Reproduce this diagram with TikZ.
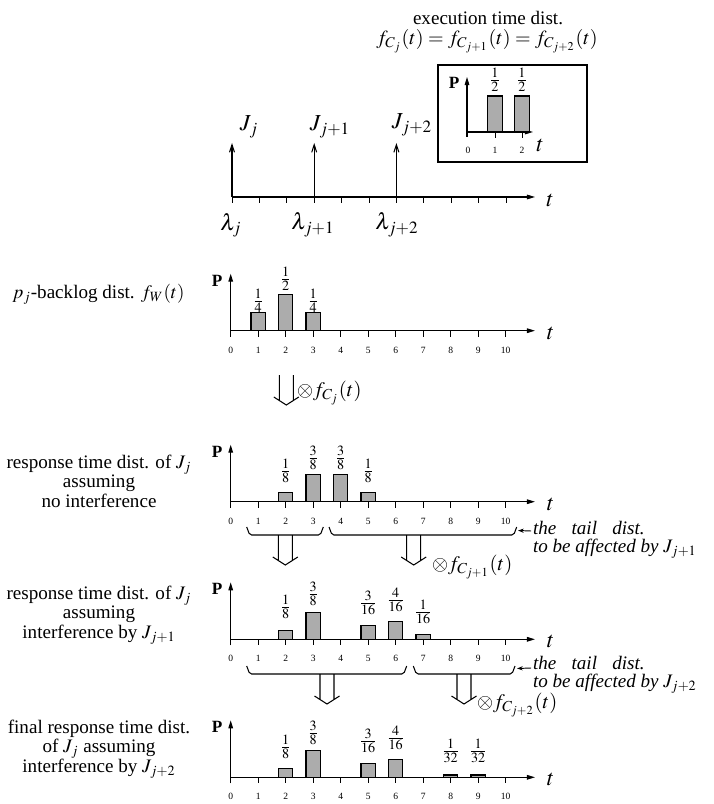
\documentclass[tikz,border=0pt]{standalone}
\usepackage{mathptmx}
\usepackage[no-math]{fontspec}
\setmainfont{Liberation Serif}
\usetikzlibrary{arrows.meta,calc}

\begin{document}
\begin{tikzpicture}[x=0.524pt,y=-0.524pt,
  every node/.style={inner sep=0pt, outer sep=0pt},
  lbl/.style={font=\fontsize{10}{10.2}\selectfont, align=center},
  mathlbl/.style={font=\fontsize{12}{14}\selectfont},
  convlbl/.style={font=\fontsize{10.8}{13}\selectfont, anchor=west},
  tail/.style={font=\fontsize{10}{9.6}\selectfont\itshape, align=left},
  axisline/.style={line width=0.55pt, -{Triangle[length=4.2pt,width=2.4pt]}},
  tickmark/.style={line width=0.5pt},
  ticknum/.style={font=\tiny},
  frac/.style={font=\normalsize},
  pbar/.style={draw, line width=0.6pt, fill=gray!65},
  release/.style={line width=0.55pt, -{Straight Barb[length=4pt,width=2.6pt]}},
  tailarrow/.style={line width=0.5pt, -{Stealth[length=3pt,width=2.2pt]}},
  hookbrace/.style={line width=0.55pt, rounded corners=1pt,
    to path={(\tikztostart) -- ++(3,8) -- ($(\tikztotarget)+(-3,8)$) -- (\tikztotarget)}},
  fatarrow/.pic={\draw[line width=0.55pt] (-7,0) -- (-7,25.5) (7,0) -- (7,25.5)
                 (-12.5,22) -- (0,30) -- (12.5,22);},
  probaxes/.pic={
    \draw[axisline] (0,6) -- (0,-57);
    \draw[axisline] (0,0) -- (304.3,0);
    \foreach \k in {1,...,10} \draw[tickmark] (\k*27.5,0) -- (\k*27.5,6);
    \foreach \k in {0,...,10} \node[ticknum] (-n\k) at (\k*27.5,19.5) {\k};
    \node[mathlbl] (-t) at (320,2.5) {$t$};
    \node[font=\small\bfseries] (-P) at (-13.7,-50) {P};
  }
]
\useasboundingbox (0,0) rectangle (713,804);

% ---------- execution time distribution ----------
\node[lbl] (head) at (488,18) {execution time dist.};
\node[font=\fontsize{10.5}{12}\selectfont] (headf) at (487,41) {$f_{C_j}(t)=f_{C_{j+1}}(t)=f_{C_{j+2}}(t)$};
\node[draw, line width=0.6pt, minimum width=78.1pt, minimum height=50.8pt] (inset) at (512.5,113.5) {};
\begin{scope}[shift={(467,132)}]
  \draw[axisline] (0,5) -- (0,-55);
  \draw[axisline] (0,0) -- (66,0);
  \foreach \k in {28,55} \draw[tickmark] (\k,0) -- (\k,6);
  \foreach \k in {28,55} \draw[pbar] (\k-7.15,0) rectangle ++(14.3,-36);
  \node[ticknum] (in0) at (1,18) {0};
  \node[ticknum] (in1) at (28,18) {1};
  \node[ticknum] (in2) at (55,18) {2};
  \node[mathlbl] (int) at (73,13) {$t$};
  \node[font=\small\bfseries] (inP) at (-13,-49) {P};
  \node[frac] (inf1) at (28,-52) {$\frac{1}{2}$};
  \node[frac] (inf2) at (55,-52) {$\frac{1}{2}$};
\end{scope}

% ---------- release time line ----------
\draw[axisline] (232,197) -- (535,197);
\foreach \k in {0,...,10} \draw[tickmark] (232+\k*27.4,197) -- ++(0,6);
\coordinate (r0) at (232,197);
\coordinate (r1) at (314.2,197);
\coordinate (r2) at (396.4,197);
\draw[release] (r0) -- ++(0,-54);
\draw[release] (r1) -- ++(0,-54);
\draw[release] (r2) -- ++(0,-54);
\node[mathlbl] (J0) at (249,127) {$J_j$};
\node[mathlbl] (J1) at (330,127) {$J_{j+1}$};
\node[mathlbl] (J2) at (412,125) {$J_{j+2}$};
\node[mathlbl] (L0) at (231,225) {$\lambda_j$};
\node[mathlbl] (L1) at (313,225) {$\lambda_{j+1}$};
\node[mathlbl] (L2) at (397,225) {$\lambda_{j+2}$};
\node[mathlbl] (tl) at (550,200) {$t$};

% ---------- backlog distribution ----------
\node[lbl] (lab1) at (98.5,294) {$p_j$-backlog dist. $f_W(t)$};
\pic (c1) at (230.7,330.7) {probaxes};
\begin{scope}[shift={(230.7,330.7)}]
  \foreach \k/\p in {1/0.25,2/0.5,3/0.25}
    \draw[pbar] (\k*27.5-7.15,0) rectangle ++(14.3,-\p*72);
  \node[frac] (c1f1) at (27.5,-30) {$\frac{1}{4}$};
  \node[frac] (c1f2) at (55,-51.7) {$\frac{1}{2}$};
  \node[frac] (c1f3) at (82.5,-30) {$\frac{1}{4}$};
\end{scope}
\pic at (286.3,375) {fatarrow};
\node[convlbl] (conv1) at (297,393) {$\otimes f_{C_j}(t)$};

% ---------- response time, no interference ----------
\node[lbl] (lab2) at (99,481) {response time dist. of $J_j$\\assuming\\no interference};
\pic (c2) at (230.7,501.7) {probaxes};
\begin{scope}[shift={(230.7,501.7)}]
  \foreach \k/\p in {2/0.125,3/0.375,4/0.375,5/0.125}
    \draw[pbar] (\k*27.5-7.15,0) rectangle ++(14.3,-\p*72);
  \node[frac] (c2f1) at (55,-31) {$\frac{1}{8}$};
  \node[frac] (c2f2) at (82.5,-44) {$\frac{3}{8}$};
  \node[frac] (c2f3) at (110,-44) {$\frac{3}{8}$};
  \node[frac] (c2f4) at (137.5,-31) {$\frac{1}{8}$};
\end{scope}
\draw[hookbrace] (246.7,527) to (323.3,527);
\draw[hookbrace] (329,527) to (516.7,527);
\pic at (285.3,535) {fatarrow};
\pic at (413.7,535) {fatarrow};
\node[tail, anchor=west] (tail1) at (533,540) {the\hspace{0.8em}tail\hspace{0.8em}dist.\\to be affected by $J_{j+1}$};
\coordinate (tail1a) at (531,531);
\coordinate (br1end) at (518,530.5);
\draw[tailarrow] (tail1a) -- (br1end);
\node[convlbl] (conv2) at (432,567) {$\otimes f_{C_{j+1}}(t)$};

% ---------- response time, interference by J_{j+1} ----------
\node[lbl] (lab3) at (99,615) {response time dist. of $J_j$\\assuming\\interference by $J_{j+1}$};
\pic (c3) at (230.7,639.3) {probaxes};
\begin{scope}[shift={(230.7,639.3)}]
  \foreach \k/\p in {2/0.125,3/0.375,5/0.1875,6/0.25,7/0.0625}
    \draw[pbar] (\k*27.5-7.15,0) rectangle ++(14.3,-\p*72);
  \node[frac] (c3f1) at (55,-32.6) {$\frac{1}{8}$};
  \node[frac] (c3f2) at (82.5,-45) {$\frac{3}{8}$};
  \node[frac] (c3f3) at (137.5,-36.6) {$\frac{3}{16}$};
  \node[frac] (c3f4) at (165,-39.3) {$\frac{4}{16}$};
  \node[frac] (c3f5) at (192.5,-27.6) {$\frac{1}{16}$};
\end{scope}
\draw[hookbrace] (246.7,666) to (406.7,666);
\draw[hookbrace] (413.3,666) to (515,666);
\pic at (327,674) {fatarrow};
\pic at (464,674) {fatarrow};
\node[tail, anchor=west] (tail2) at (533,675) {the\hspace{0.8em}tail\hspace{0.8em}dist.\\to be affected by $J_{j+2}$};
\coordinate (tail2a) at (531,668);
\coordinate (br2end) at (517,668.5);
\draw[tailarrow] (tail2a) -- (br2end);
\node[convlbl] (conv3) at (477,705) {$\otimes f_{C_{j+2}}(t)$};

% ---------- final response time ----------
\node[lbl] (lab4) at (99,749) {final response time dist.\\of $J_j$ assuming\\interference by $J_{j+2}$};
\pic (c4) at (230.7,777.3) {probaxes};
\begin{scope}[shift={(230.7,777.3)}]
  \foreach \k/\p in {2/0.125,3/0.375,5/0.1875,6/0.25,8/0.03125,9/0.03125}
    \draw[pbar] (\k*27.5-7.15,0) rectangle ++(14.3,-\p*72);
  \node[frac] (c4f1) at (55,-30.6) {$\frac{1}{8}$};
  \node[frac] (c4f2) at (82.5,-44.6) {$\frac{3}{8}$};
  \node[frac] (c4f3) at (137.5,-36.6) {$\frac{3}{16}$};
  \node[frac] (c4f4) at (165,-39) {$\frac{4}{16}$};
  \node[frac] (c4f5) at (220,-26.6) {$\frac{1}{32}$};
  \node[frac] (c4f6) at (247.5,-26.6) {$\frac{1}{32}$};
\end{scope}
\end{tikzpicture}
\end{document}
